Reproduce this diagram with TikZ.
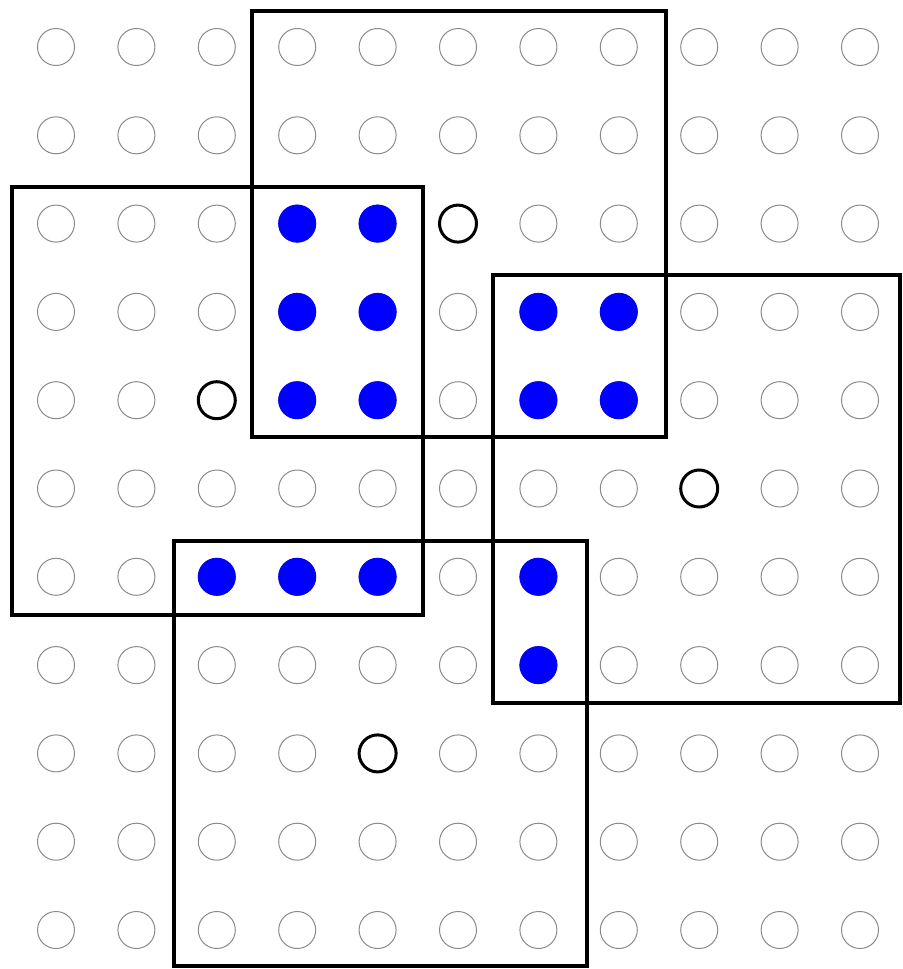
\documentclass[tikz,border=0pt]{standalone}
\usepackage{xcolor}
\definecolor{sitegrey}{HTML}{8A8A8A}

\begin{document}
\begin{tikzpicture}[
        x=0.5pt, y=-0.5pt,
        site/.style={circle, draw=sitegrey, line width=0.5pt,
          minimum size=18.5pt, inner sep=0pt},
        active/.style={site, draw=blue, fill=blue},
        seed/.style={site, draw=black, line width=1.5pt},
        window/.style={draw=black, line width=2pt},
      ]
        \useasboundingbox (0,0) rectangle (903,969);

        \foreach \i in {0,...,10}
          \foreach \j in {0,...,10}
            \node[site] (s-\i-\j) at ({56+80.4*\i},{47+88.3*\j}) {};

        \foreach \i/\j in {3/2, 4/2, 3/3, 4/3, 3/4, 4/4, 6/3, 7/3, 6/4, 7/4,
                           2/6, 3/6, 4/6, 6/6, 6/7}
          \node[active] (a-\i-\j) at (s-\i-\j) {};

        \foreach \i/\j in {5/2, 2/4, 8/5, 4/8}
          \node[seed] (b-\i-\j) at (s-\i-\j) {};

        \draw[window] (252,11) rectangle (666,437);
        \draw[window] (12,187) rectangle (423,615);
        \draw[window] (493,275) rectangle (900,703);
        \draw[window] (174,541) rectangle (587,966);
      \end{tikzpicture}
\end{document}
